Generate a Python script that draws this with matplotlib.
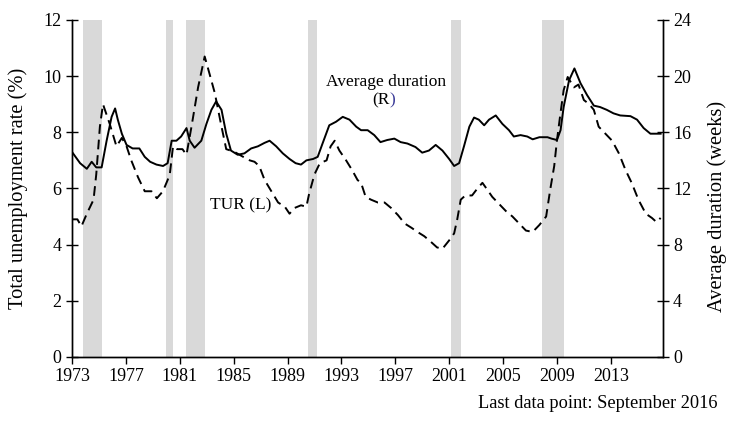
import matplotlib
matplotlib.use("Agg")
import matplotlib.pyplot as plt

plt.rcParams['font.family'] = ['Liberation Serif', 'DejaVu Serif']

# Unemployment rate (TUR, %), left axis
tur_t = [1973.0, 1973.4, 1973.7, 1974.1, 1974.6, 1974.8, 1975.07, 1975.3, 1975.8, 1976.3,
         1976.7, 1977.05, 1977.4, 1977.9, 1978.4, 1978.9, 1979.3, 1979.75, 1980.1, 1980.26,
         1980.5, 1980.8, 1981.2, 1981.5, 1981.87, 1982.36, 1982.85, 1983.2, 1983.6, 1984.1,
         1984.45, 1985.07, 1985.8, 1986.2, 1986.55, 1986.9, 1987.3, 1987.8, 1988.3, 1988.8,
         1989.15, 1989.5, 1990.0, 1990.4, 1990.6, 1991.0, 1991.4, 1991.9, 1992.2, 1992.5,
         1992.85, 1993.35, 1993.8, 1994.2, 1994.46, 1994.8, 1995.2, 1995.7, 1996.2, 1996.7,
         1997.2, 1997.7, 1998.2, 1998.65, 1999.15, 1999.64, 2000.1, 2000.5, 2001.0, 2001.37,
         2001.6, 2001.86, 2002.2, 2002.7, 2003.1, 2003.47, 2003.84, 2004.2, 2004.7, 2005.2,
         2005.7, 2006.2, 2006.7, 2007.2, 2007.7, 2008.2, 2008.5, 2008.8, 2009.0, 2009.27,
         2009.5, 2009.8, 2010.26, 2010.6, 2011.0, 2011.4, 2011.74, 2012.1, 2012.6, 2013.1,
         2013.6, 2014.1, 2014.55, 2015.05, 2015.6, 2016.05, 2016.4, 2016.7]
tur_v = [4.9, 4.9, 4.65, 5.1, 5.6, 6.5, 8.2, 9.0, 8.3, 7.5,
         7.8, 7.5, 7.0, 6.4, 5.9, 5.9, 5.65, 5.9, 6.3, 6.5,
         7.5, 7.4, 7.4, 7.2, 8.2, 9.6, 10.7, 10.1, 9.4, 8.2,
         7.4, 7.3, 7.1, 7.0, 6.95, 6.8, 6.3, 5.9, 5.5, 5.35,
         5.1, 5.3, 5.4, 5.35, 5.8, 6.5, 6.9, 7.0, 7.5, 7.7,
         7.35, 7.0, 6.65, 6.3, 6.2, 5.7, 5.6, 5.5, 5.5, 5.3,
         5.05, 4.75, 4.6, 4.45, 4.3, 4.1, 3.9, 3.85, 4.15, 4.4,
         4.9, 5.6, 5.75, 5.75, 6.0, 6.2, 5.95, 5.7, 5.45, 5.2,
         5.0, 4.75, 4.5, 4.45, 4.7, 5.0, 5.95, 6.8, 7.7, 8.7,
         9.5, 9.97, 9.6, 9.7, 9.15, 9.0, 8.8, 8.2, 7.95, 7.7,
         7.25, 6.65, 6.2, 5.6, 5.1, 4.95, 4.8, 4.95]

# Average duration of unemployment (weeks), right axis
dur_t = [1973.0, 1973.6, 1974.1, 1974.46, 1974.8, 1975.2, 1975.57, 1975.94, 1976.2, 1976.4,
         1976.7, 1977.05, 1977.5, 1978.0, 1978.4, 1978.8, 1979.27, 1979.76, 1980.1, 1980.4,
         1980.75, 1981.1, 1981.5, 1981.74, 1982.1, 1982.6, 1982.98, 1983.35, 1983.7, 1984.1,
         1984.45, 1984.8, 1985.3, 1985.8, 1986.3, 1986.8, 1987.3, 1987.67, 1988.16, 1988.65,
         1989.15, 1989.6, 1990.0, 1990.4, 1990.9, 1991.24, 1991.6, 1992.1, 1992.6, 1993.1,
         1993.6, 1994.1, 1994.46, 1994.95, 1995.44, 1995.9, 1996.4, 1996.93, 1997.4, 1997.9,
         1998.5, 1999.0, 1999.5, 2000.0, 2000.5, 2001.0, 2001.37, 2001.74, 2002.1, 2002.5,
         2002.85, 2003.2, 2003.6, 2003.96, 2004.46, 2004.95, 2005.44, 2005.8, 2006.3, 2006.8,
         2007.2, 2007.7, 2008.3, 2008.6, 2009.0, 2009.27, 2009.5, 2009.9, 2010.3, 2010.75,
         2011.24, 2011.74, 2012.2, 2012.7, 2013.2, 2013.7, 2014.46, 2014.95, 2015.44, 2015.94,
         2016.7]
dur_v = [14.6, 13.8, 13.4, 13.9, 13.5, 13.5, 15.4, 17.1, 17.7, 16.9,
         15.9, 15.1, 14.85, 14.85, 14.25, 13.9, 13.7, 13.6, 13.8, 15.4,
         15.4, 15.7, 16.3, 15.4, 14.9, 15.4, 16.6, 17.6, 18.2, 17.6,
         15.9, 14.7, 14.4, 14.5, 14.85, 15.0, 15.25, 15.4, 15.0, 14.5,
         14.1, 13.8, 13.7, 14.0, 14.1, 14.25, 15.2, 16.5, 16.75, 17.1,
         16.9, 16.4, 16.15, 16.15, 15.8, 15.3, 15.45, 15.55, 15.3, 15.2,
         14.95, 14.55, 14.7, 15.1, 14.7, 14.1, 13.6, 13.8, 15.0, 16.4,
         17.05, 16.9, 16.5, 16.9, 17.2, 16.6, 16.15, 15.7, 15.8, 15.7,
         15.5, 15.65, 15.65, 15.55, 15.45, 16.15, 17.8, 19.7, 20.55, 19.5,
         18.65, 17.9, 17.8, 17.6, 17.35, 17.2, 17.15, 16.9, 16.3, 15.9,
         15.9]

# Recessions (start, end)
rec_start = [1973.83, 1980.0, 1981.5, 1990.5, 2001.17, 2007.92]
rec_end = [1975.2, 1980.5, 1982.88, 1991.2, 2001.88, 2009.5]

xticks = [1973, 1977, 1981, 1985, 1989, 1993, 1997, 2001, 2005, 2009, 2013]
left_ticks = [0, 2, 4, 6, 8, 10, 12]
right_ticks = [0, 4, 8, 12, 16, 20, 24]

fig = plt.figure(figsize=(7.31, 4.30), dpi=100)
ax = fig.add_axes([0.0985, 0.170, 0.808, 0.7835])
ax2 = ax.twinx()

for s, e in zip(rec_start, rec_end):
    ax.axvspan(s, e, color='#d9d9d9', lw=0, zorder=0)

ax.plot(tur_t, tur_v, color='black', lw=1.4, linestyle=(0, (5, 3)), zorder=3)
ax2.plot(dur_t, dur_v, color='black', lw=1.4, zorder=3)

ax.set_xlim(1973, 2016.85)
ax.set_ylim(0, 12)
ax2.set_ylim(0, 24)
ax.set_xticks(xticks)
ax.set_xticklabels([str(x) for x in xticks])
ax.set_yticks(left_ticks)
ax2.set_yticks(right_ticks)

for a in (ax, ax2):
    a.spines['top'].set_visible(False)
    a.spines['left'].set_linewidth(1.0)
    a.spines['right'].set_linewidth(1.0)
    a.spines['bottom'].set_linewidth(1.0)
ax.tick_params(axis='y', direction='inout', length=9, width=1.0, labelsize=13, pad=3)
ax2.tick_params(axis='y', direction='inout', length=9, width=1.0, labelsize=13, pad=3)
ax.tick_params(axis='x', direction='out', length=5, width=1.0, labelsize=13, pad=3)

fig.text(18 / 731, 1 - 188 / 430, 'Total unemployment rate (%)', rotation=90,
         ha='center', va='center', fontsize=14.8)
fig.text(717 / 731, 1 - 206 / 430, 'Average duration (weeks)', rotation=90,
         ha='center', va='center', fontsize=14.8)

ax.text(1996.3, 9.79, 'Average duration', ha='center', va='center', fontsize=12.5)
ax.text(1996.55, 9.15, '(R', ha='right', va='center', fontsize=12.5)
ax.text(1996.55, 9.15, ')', ha='left', va='center', fontsize=12.5, color='#3b3b98')
ax.text(1985.5, 5.39, 'TUR (L)', ha='center', va='center', fontsize=12.5)

fig.text(717 / 731, 1 - 404 / 430, 'Last data point: September 2016', ha='right',
         va='center', fontsize=13.2)

fig.savefig('out.png', dpi=100)
